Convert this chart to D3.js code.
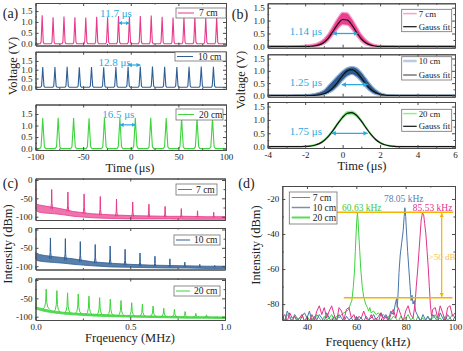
<!DOCTYPE html>
<html>
<head>
<meta charset="utf-8">
<script src="https://cdn.jsdelivr.net/npm/d3@7"></script>
<style>
body { margin: 0; background: #fff; }
svg { display: block; }
</style>
</head>
<body>
<script>
// ---------------- data ----------------
// (a) pulse trains: peak times (us) and peak voltages (V)
var aPeakT7  = [-93, -81.55, -70.1, -58.65, -47.2, -35.75, -24.3, -12.85, -1.4, 10.05, 21.5, 32.95, 44.4, 55.85, 67.3, 78.75, 90.2];
var aPeakV7  = [1.31, 1.22, 1.25, 1.22, 1.2, 1.24, 1.22, 1.27, 1.25, 1.27, 1.29, 1.24, 1.2, 1.22, 1.25, 1.2, 1.24];
var aPeakT10 = [-92.4, -79.6, -66.8, -54, -41.2, -28.4, -15.6, -2.8, 10, 22.8, 35.6, 48.4, 61.2, 74, 86.8];
var aPeakV10 = [1.16, 1.15, 1.17, 1.14, 1.15, 1.14, 1.16, 1.17, 1.18, 1.19, 1.17, 1.15, 1.17, 1.18, 1.17];
var aPeakT20 = [-92.4, -76.2, -60, -43.8, -27.6, -11.4, 4.8, 21, 37.2, 53.4, 69.6, 85.8];
var aPeakV20 = [1.32, 1.33, 1.32, 1.31, 1.33, 1.32, 1.34, 1.33, 1.32, 1.33, 1.32, 1.31];
var pulseFwhm = [1.14, 1.25, 1.75];
// single pulse profile, time in units of FWHM, value relative to peak
var pulseShapeT = [-1.8, -1, -0.5, 0, 0.5, 1, 1.8];
var pulseShapeV = [0, 0.06, 0.5, 1, 0.5, 0.06, 0];
var aPeriodLabels = ["11.7 \u03bcs", "12.8 \u03bcs", "16.5 \u03bcs"];

// (b) single pulses: time grid (us), measured envelope (lo/hi) and Gauss fit
var bTime  = [-4, -3, -2.5, -2.25, -2, -1.75, -1.5, -1.25, -1, -0.75, -0.5, -0.25, 0, 0.25, 0.5, 0.75, 1, 1.25, 1.5, 1.75, 2, 2.25, 2.5, 2.75, 3, 3.5, 4, 5, 6];
var bLo7   = [0, 0, 0, 0, 0, 0, 0, 0.02, 0.08, 0.22, 0.45, 0.68, 0.84, 0.82, 0.64, 0.4, 0.18, 0.06, 0.01, 0, 0, 0, 0, 0, 0, 0, 0, 0, 0];
var bHi7   = [0.01, 0.01, 0.02, 0.03, 0.05, 0.07, 0.1, 0.17, 0.3, 0.52, 0.82, 1.12, 1.32, 1.3, 1.08, 0.78, 0.48, 0.27, 0.13, 0.07, 0.04, 0.03, 0.02, 0.02, 0.01, 0.01, 0.01, 0.01, 0.01];
var bFit7  = [0, 0, 0, 0, 0.001, 0.005, 0.018, 0.058, 0.154, 0.335, 0.597, 0.872, 1.043, 1.022, 0.821, 0.54, 0.292, 0.129, 0.047, 0.014, 0.003, 0.001, 0, 0, 0, 0, 0, 0, 0];
var bLo10  = [0, 0, 0, 0, 0, 0, 0, 0, 0.02, 0.09, 0.2, 0.38, 0.6, 0.78, 0.85, 0.75, 0.55, 0.32, 0.14, 0.04, 0.01, 0, 0, 0, 0, 0, 0, 0, 0];
var bHi10  = [0.01, 0.01, 0.02, 0.02, 0.03, 0.05, 0.08, 0.13, 0.22, 0.42, 0.62, 0.82, 1.0, 1.13, 1.17, 1.12, 0.95, 0.7, 0.45, 0.25, 0.12, 0.06, 0.03, 0.02, 0.01, 0.01, 0.01, 0.01, 0.01];
var bFit10 = [0, 0, 0, 0, 0, 0.002, 0.007, 0.024, 0.068, 0.161, 0.325, 0.555, 0.807, 0.997, 1.047, 0.934, 0.709, 0.457, 0.25, 0.117, 0.046, 0.016, 0.004, 0.001, 0, 0, 0, 0, 0];
var bLo20  = [0, 0, 0, 0, 0, 0.01, 0.03, 0.09, 0.2, 0.36, 0.58, 0.83, 1.05, 1.2, 1.22, 1.12, 0.92, 0.68, 0.44, 0.26, 0.13, 0.06, 0.02, 0, 0, 0, 0, 0, 0];
var bHi20  = [0.01, 0.01, 0.01, 0.01, 0.02, 0.04, 0.08, 0.14, 0.26, 0.43, 0.66, 0.92, 1.15, 1.31, 1.33, 1.22, 1.0, 0.74, 0.5, 0.3, 0.17, 0.09, 0.05, 0.03, 0.02, 0.01, 0.01, 0.01, 0.01];
var bFit20 = [0, 0, 0.001, 0.003, 0.008, 0.022, 0.053, 0.114, 0.224, 0.391, 0.615, 0.868, 1.098, 1.248, 1.273, 1.165, 0.957, 0.705, 0.466, 0.277, 0.148, 0.07, 0.03, 0.012, 0.004, 0, 0, 0, 0];
// FWHM arrows: [start us, end us, level V]
var bArrows = [[-0.53, 0.8, 0.5], [-0.04, 1.33, 0.44], [-0.58, 1.33, 0.5]];
var bWidthLabels = ["1.14 \u03bcs", "1.25 \u03bcs", "1.75 \u03bcs"];

// (c) RF spectra 0-1 MHz: noise floor envelope and harmonic peaks
var cFreq = [0, 0.005, 0.02, 0.05, 0.1, 0.15, 0.2, 0.3, 0.4, 0.5, 0.6, 0.7, 0.8, 0.9, 1.0];
var cLo7  = [-80, -84, -88, -90, -92, -95, -99, -103, -105, -106, -106, -106, -107, -107, -107];
var cHi7  = [-2, -66, -68, -71, -75, -80, -86, -92, -95, -97, -98, -99, -99, -100, -100];
var cLo10 = [-80, -84, -86, -88, -90, -92, -95, -99, -102, -103, -104, -105, -105, -106, -106];
var cHi10 = [-62, -64, -68, -71, -74, -77, -80, -88, -92, -95, -97, -98, -99, -100, -100];
var cLo20 = [-80, -80, -82, -86, -90, -93, -95, -98, -100, -101, -102, -103, -104, -104, -105];
var cHi20 = [-25, -74, -76, -80, -85, -88, -90, -93, -95, -97, -98, -99, -100, -100, -101];
var cPeakF7  = [0.0855, 0.171, 0.2565, 0.342, 0.4275, 0.513, 0.5985, 0.684, 0.7695, 0.855, 0.9405];
var cPeakV7  = [-26, -33, -38, -45, -52, -60, -66, -72, -78, -84, -88];
var cPeakB7  = [-80, -86, -92, -96, -99, -100, -101, -101, -102, -102, -102];
var cPeakF10 = [0.0788, 0.1576, 0.2364, 0.3152, 0.394, 0.4728, 0.5516, 0.6304, 0.7092, 0.788, 0.8668, 0.9456];
var cPeakV10 = [-23, -25, -33, -41, -45, -54, -64, -73, -80, -89, -95, -98];
var cPeakB10 = [-80, -84, -88, -92, -95, -98, -100, -101, -102, -102, -103, -103];
var cPeakF20 = [0.0564, 0.1128, 0.1692, 0.2256, 0.282, 0.3384, 0.3948, 0.4512, 0.5076, 0.564, 0.6204, 0.6768, 0.7332, 0.7896, 0.846, 0.9024, 0.9588];
var cPeakV20 = [-25, -29, -35, -38, -44, -48, -52, -56, -62, -66, -71, -77, -80, -86, -91, -95, -100];
var cPeakB20 = [-80, -88, -91, -93, -95, -96, -97, -98, -99, -100, -100, -101, -101, -102, -102, -103, -103];
// peak profiles: offset (MHz) and fraction of peak height above floor
var spikeT = [-0.005, -0.0015, 0, 0.0015, 0.005];
var spikeL = [0, 0.3, 1, 0.3, 0];
var skirtT = [-0.018, -0.008, -0.003, 0, 0.003, 0.008, 0.018];
var skirtL = [0, 0.12, 0.35, 1, 0.35, 0.12, 0];

// (d) fundamental RF peaks: [kHz, dBm]
var d7 = [[30,-88],[31,-86],[32,-90],[33,-85],[34,-88],[35,-87],[36,-90],[37,-88],[38,-86],[39,-90],[40,-88],[41,-90],[42,-86],[43,-89],[44,-84],[45,-81],[46,-86],[47,-82],[48,-88],[49,-84],[50,-81],[51,-86],[52,-90],[53,-82],[54,-84],[55,-89],[56,-83],[57,-82],[58,-88],[59,-86],[60,-90],[61,-87],[62,-88],[63,-84],[64,-88],[65,-90],[66,-86],[67,-89],[68,-88],[69,-90],[70,-85],[71,-89],[72,-87],[73,-90],[74,-86],[75,-83],[76,-88],[77,-82],[78,-86],[79,-90],[80,-84],[81,-81],[82,-86],[83,-88],[83.8,-80],[84.3,-70],[84.9,-60],[85.4,-50],[85.9,-40],[86.3,-32],[86.8,-28],[87.3,-29],[87.7,-34],[88.2,-40],[88.7,-50],[89.2,-60],[89.6,-70],[90,-80],[90.5,-87],[91,-83],[92,-82],[93,-88],[94,-81],[95,-85],[96,-90],[97,-82],[98,-81],[99,-87],[100,-85]];
var d10 = [[30,-86],[31,-90],[32,-84],[33,-87],[34,-90],[35,-86],[36,-88],[37,-90],[38,-87],[39,-85],[40,-88],[41,-84],[42,-90],[43,-87],[44,-89],[45,-86],[46,-88],[47,-90],[48,-85],[49,-88],[50,-90],[51,-87],[52,-89],[53,-86],[54,-88],[55,-90],[56,-87],[57,-89],[58,-88],[59,-90],[60,-87],[61,-89],[62,-88],[63,-90],[64,-87],[65,-89],[66,-88],[67,-86],[68,-89],[69,-87],[70,-85],[71,-88],[72,-86],[73,-89],[74,-84],[75,-86],[75.8,-80],[76.3,-77],[76.6,-82],[77,-72],[77.3,-62],[77.8,-52],[78.4,-45],[79,-38],[79.4,-30],[79.7,-25],[80,-30],[80.4,-40],[80.8,-50],[81.3,-60],[81.8,-70],[82.2,-78],[82.6,-75],[83,-80],[83.5,-78],[84,-84],[85,-87],[86,-90],[87,-86],[88,-89],[89,-87],[90,-90],[91,-86],[92,-88],[93,-90],[94,-85],[95,-88],[96,-90],[97,-86],[98,-88],[99,-90],[100,-87]];
var d20 = [[30,-87],[31,-90],[32,-86],[33,-88],[34,-90],[35,-87],[36,-89],[37,-88],[38,-86],[39,-90],[40,-87],[41,-89],[42,-88],[43,-90],[44,-86],[45,-88],[46,-90],[47,-87],[48,-89],[49,-88],[50,-86],[51,-89],[52,-87],[53,-88],[54,-86],[55,-85],[56,-84],[57,-83],[57.6,-80],[58.2,-78],[58.8,-70],[59.3,-60],[59.6,-50],[59.9,-40],[60.2,-32],[60.45,-28],[60.7,-32],[61,-40],[61.4,-50],[61.8,-60],[62.4,-70],[63,-76],[63.8,-80],[64.5,-82],[65,-84],[65.5,-82],[66,-85],[67,-84],[68,-86],[69,-85],[70,-87],[71,-86],[72,-88],[73,-87],[74,-89],[75,-87],[76,-88],[77,-90],[78,-87],[79,-89],[80,-88],[81,-86],[82,-89],[83,-88],[84,-90],[85,-87],[86,-89],[87,-88],[88,-90],[89,-87],[90,-89],[91,-88],[92,-86],[93,-89],[94,-88],[95,-90],[96,-87],[97,-89],[98,-88],[99,-86],[100,-88]];
var dPeakLevel = -27.6, dFloorLevel = -76.4;
var dPeakLine = [49.5, 99.3], dFloorLine = [54.9, 99], dArrowKHz = 94.6;
var dPeakLabels = ["60.63 kHz", "78.05 kHz", "85.53 kHz"];
var dPeakLabelPos = [[54.2, -26.6], [71.2, -22.0], [82.9, -26.6]];

var seriesNames = ["7 cm", "10 cm", "20 cm"];

// ---------------- drawing ----------------
var serif = '"Liberation Serif", "Times New Roman", serif';
var frameColor = "#4a4a4a";
var pink = "#e8398b", blue = "#2f5f96", green = "#3dd43d";
var cyan = "#29aae1", gold = "#f5b301";

var svg = d3.select("body").append("svg")
    .attr("width", 463).attr("height", 351)
    .style("font-family", serif);
var defs = svg.append("defs");

function marker(id, color) {
    defs.append("marker").attr("id", id)
        .attr("viewBox", "0 0 10 10").attr("refX", 9).attr("refY", 5)
        .attr("markerWidth", 3.5).attr("markerHeight", 3.5)
        .attr("orient", "auto-start-reverse")
        .append("path").attr("d", "M0,0L10,5L0,10z").attr("fill", color);
}
marker("arrCyan", cyan);
marker("arrGold", gold);

var clipCount = 0;
function clipped(g, x, y) {
    var id = "clip" + (clipCount++);
    defs.append("clipPath").attr("id", id).append("rect")
        .attr("x", x.range()[0]).attr("y", y.range()[1])
        .attr("width", x.range()[1] - x.range()[0])
        .attr("height", y.range()[0] - y.range()[1]);
    return g.append("g").attr("clip-path", "url(#" + id + ")");
}

function noLabel() { return ""; }

// frame with inward ticks on all four sides
function axes(g, x, y, o) {
    var xr = x.range(), yr = y.range();
    function put(axis, tx, ty) {
        var a = g.append("g").attr("transform", "translate(" + tx + "," + ty + ")").call(axis);
        a.attr("font-family", serif).attr("font-size", 9);
        a.select(".domain").attr("stroke", frameColor);
        a.selectAll(".tick line").attr("stroke", frameColor);
        a.selectAll(".tick text").attr("fill", "#222");
    }
    put(d3.axisBottom(x).tickValues(o.xMinor).tickSize(-1.5).tickSizeOuter(0).tickFormat(noLabel), 0, yr[0]);
    put(d3.axisBottom(x).tickValues(o.xMajor).tickSize(-3).tickSizeOuter(0).tickPadding(3.5).tickFormat(o.xFmt || noLabel), 0, yr[0]);
    put(d3.axisTop(x).tickValues(o.xMinor).tickSize(-1.5).tickSizeOuter(0).tickFormat(noLabel), 0, yr[1]);
    put(d3.axisTop(x).tickValues(o.xMajor).tickSize(-3).tickSizeOuter(0).tickFormat(noLabel), 0, yr[1]);
    put(d3.axisLeft(y).tickValues(o.yMinor).tickSize(-1.5).tickSizeOuter(0).tickFormat(noLabel), xr[0], 0);
    put(d3.axisLeft(y).tickValues(o.yMajor).tickSize(-3).tickSizeOuter(0).tickPadding(3).tickFormat(o.yFmt), xr[0], 0);
    put(d3.axisRight(y).tickValues(o.yMinor).tickSize(-1.5).tickSizeOuter(0).tickFormat(noLabel), xr[1], 0);
    put(d3.axisRight(y).tickValues(o.yMajor).tickSize(-3).tickSizeOuter(0).tickFormat(noLabel), xr[1], 0);
}

// legend box: box = [x, y, w, h]; rows = [{label, color, width, y}]
function legend(g, box, lineX, textX, rows, size) {
    g.append("rect").attr("x", box[0]).attr("y", box[1])
        .attr("width", box[2]).attr("height", box[3])
        .attr("fill", "#fff").attr("stroke", "#707070").attr("stroke-width", 0.8);
    rows.forEach(function(r) {
        g.append("line").attr("x1", lineX[0]).attr("x2", lineX[1])
            .attr("y1", r.y).attr("y2", r.y)
            .attr("stroke", r.color).attr("stroke-width", r.width);
        g.append("text").attr("x", textX).attr("y", r.y).attr("dy", "0.35em")
            .attr("font-size", size || 10).attr("fill", "#222").text(r.label);
    });
}

function title(txt, x, y, size, rotate) {
    var t = svg.append("text").attr("font-size", size).attr("fill", "#222")
        .attr("text-anchor", "middle").text(txt);
    if (rotate) t.attr("transform", "translate(" + x + "," + y + ") rotate(-90)").attr("dy", "0.35em");
    else t.attr("x", x).attr("y", y);
    return t;
}

function fix1(d) { return d.toFixed(1); }
function plain(d) { return String(d); }

// ---- panel (a) ----
var aSeries = [
    { t: aPeakT7, v: aPeakV7, color: pink, legend: [176, 8, 50, 10], arrow: [7, 0.95], label: [-15.5, 1.25] },
    { t: aPeakT10, v: aPeakV10, color: blue, legend: [175, 52, 51, 9], arrow: [7, 1.27], label: [-17, 1.19] },
    { t: aPeakT20, v: aPeakV20, color: green, legend: [176, 109, 47, 11], arrow: [5, 1.03], label: [-13.1, 1.33] }
];
var aBoxes = [[3, 45.5], [51.7, 89], [104.5, 150]];
var aDomains = [[-0.08, 1.87], [-0.1, 2.03], [-0.06, 1.91]];

aSeries.forEach(function(s, i) {
    var x = d3.scaleLinear().domain([-100, 100]).range([35.5, 226]);
    var y = d3.scaleLinear().domain(aDomains[i]).range([aBoxes[i][1], aBoxes[i][0]]);
    var g = svg.append("g");
    var pts = [[-100, 0]];
    s.t.forEach(function(t, k) {
        pulseShapeT.forEach(function(dt, j) {
            pts.push([t + dt * pulseFwhm[i], s.v[k] * pulseShapeV[j]]);
        });
    });
    pts.push([100, 0]);
    clipped(g, x, y).append("path").datum(pts)
        .attr("d", d3.line().x(function(d) { return x(d[0]); }).y(function(d) { return y(d[1]); }))
        .attr("fill", "none").attr("stroke", s.color).attr("stroke-width", 1.1);
    axes(g, x, y, {
        xMajor: [-100, -50, 0, 50, 100], xMinor: [-75, -25, 25, 75],
        yMajor: [0, 0.5, 1, 1.5], yMinor: [0.25, 0.75, 1.25],
        xFmt: i === 2 ? plain : null, yFmt: fix1
    });
    var lb = s.legend;
    legend(g, lb, [lb[0] + 2, lb[0] + 18], lb[0] + 23,
        [{ label: seriesNames[i], color: s.color, width: 1, y: lb[1] + lb[3] / 2 }], 9.5);
    // period arrow between two neighbouring pulses
    var k = s.arrow[0];
    g.append("line").attr("x1", x(s.t[k])).attr("x2", x(s.t[k + 1]))
        .attr("y1", y(s.arrow[1])).attr("y2", y(s.arrow[1]))
        .attr("stroke", cyan).attr("stroke-width", 1.2)
        .attr("marker-start", "url(#arrCyan)").attr("marker-end", "url(#arrCyan)");
    g.append("text").attr("x", x(s.label[0])).attr("y", y(s.label[1]))
        .attr("text-anchor", "middle").attr("font-size", 11).attr("fill", cyan)
        .text(aPeriodLabels[i]);
});
title("Voltage (V)", 13, 66, 12.5, true);
title("Time (\u03bcs)", 130, 171.5, 12.5);
title("(a)", 10.5, 18, 14);

// ---- panel (b) ----
var bSeries = [
    { lo: bLo7, hi: bHi7, fit: bFit7, fill: "#ea3f8f", edge: "#f7a3c9", fitColor: "#111", legLine: "#f7a3c9", legW: 1.5, fitLeg: "#111", legend: [401.7, 9.3, 50, 22.4] },
    { lo: bLo10, hi: bHi10, fit: bFit10, fill: "#2c5a8e", edge: "#93b2d5", fitColor: "#111", legLine: "#b9cbe0", legW: 2.5, fitLeg: "#555", legend: [401.7, 56.7, 50, 23.3] },
    { lo: bLo20, hi: bHi20, fit: bFit20, fill: "#3ad63a", edge: "#8ef08e", fitColor: "#111", legLine: "#8df08d", legW: 1.5, fitLeg: "#111", legend: [401.7, 109.3, 50, 22] }
];
var bBoxes = [[3.3, 47.7], [54.3, 96.7], [102, 148]];

bSeries.forEach(function(s, i) {
    var x = d3.scaleLinear().domain([-4, 6]).range([267.7, 455]);
    var y = d3.scaleLinear().domain([-0.05, 1.67]).range([bBoxes[i][1], bBoxes[i][0]]);
    var g = svg.append("g");
    var c = clipped(g, x, y);
    var area = d3.area().curve(d3.curveMonotoneX)
        .x(function(d, k) { return x(bTime[k]); })
        .y0(function(d, k) { return y(s.lo[k]); })
        .y1(function(d, k) { return y(s.hi[k]); });
    c.append("path").datum(bTime).attr("d", area)
        .attr("fill", s.fill).attr("stroke", s.edge).attr("stroke-width", 1.2);
    c.append("path").datum(s.fit)
        .attr("d", d3.line().curve(d3.curveMonotoneX)
            .x(function(d, k) { return x(bTime[k]); }).y(function(d) { return y(d); }))
        .attr("fill", "none").attr("stroke", s.fitColor).attr("stroke-width", 1.2);
    axes(g, x, y, {
        xMajor: [-4, -2, 0, 2, 4, 6], xMinor: [-3, -1, 1, 3, 5],
        yMajor: [0, 0.5, 1, 1.5], yMinor: [0.25, 0.75, 1.25],
        xFmt: i === 2 ? plain : null, yFmt: fix1
    });
    var lb = s.legend;
    legend(g, lb, [lb[0] + 1.5, lb[0] + 15], lb[0] + 17, [
        { label: seriesNames[i], color: s.legLine, width: s.legW, y: lb[1] + 4.3 },
        { label: "Gauss fit", color: s.fitLeg, width: 1.2, y: lb[1] + lb[3] - 5 }
    ], 8.8);
    var a = bArrows[i];
    g.append("line").attr("x1", x(a[0])).attr("x2", x(a[1]))
        .attr("y1", y(a[2])).attr("y2", y(a[2]))
        .attr("stroke", cyan).attr("stroke-width", 1.3)
        .attr("marker-start", "url(#arrCyan)").attr("marker-end", "url(#arrCyan)");
    g.append("text").attr("x", x(-1.1)).attr("y", y(a[2]) + 1.5)
        .attr("text-anchor", "end").attr("font-size", 11).attr("fill", cyan)
        .text(bWidthLabels[i]);
});
title("Voltage (V)", 241, 80, 12.5, true);
title("Time (\u03bcs)", 362, 169.5, 12.5);
title("(b)", 240, 19, 14);

// ---- panel (c) ----
var cSeries = [
    { lo: cLo7, hi: cHi7, pf: cPeakF7, pv: cPeakV7, pb: cPeakB7, color: pink, op: 0.7, shapeT: spikeT, shapeL: spikeL, legend: [176, 184, 41, 11] },
    { lo: cLo10, hi: cHi10, pf: cPeakF10, pv: cPeakV10, pb: cPeakB10, color: blue, op: 0.8, shapeT: spikeT, shapeL: spikeL, legend: [174, 235, 46, 10] },
    { lo: cLo20, hi: cHi20, pf: cPeakF20, pv: cPeakV20, pb: cPeakB20, color: green, op: 0.85, shapeT: skirtT, shapeL: skirtL, legend: [174, 286, 46, 10] }
];
var cBoxes = [[178.5, 220], [228, 269.5], [278.5, 320]];

cSeries.forEach(function(s, i) {
    var x = d3.scaleLinear().domain([0, 1]).range([35.5, 225]);
    var y = d3.scaleLinear().domain([-109, 4]).range([cBoxes[i][1], cBoxes[i][0]]);
    var g = svg.append("g");
    var c = clipped(g, x, y);
    c.append("path").datum(cFreq)
        .attr("d", d3.area()
            .x(function(d) { return x(d); })
            .y0(function(d, k) { return y(s.lo[k]); })
            .y1(function(d, k) { return y(s.hi[k]); }))
        .attr("fill", s.color).attr("fill-opacity", s.op)
        .attr("stroke", s.color).attr("stroke-width", 0.8);
    var line = d3.line().x(function(d) { return x(d[0]); }).y(function(d) { return y(d[1]); });
    s.pf.forEach(function(f, k) {
        var pts = s.shapeT.map(function(dt, j) {
            return [f + dt, s.pb[k] + s.shapeL[j] * (s.pv[k] - s.pb[k])];
        });
        c.append("path").datum(pts).attr("d", line)
            .attr("fill", "none").attr("stroke", s.color).attr("stroke-width", 1);
    });
    axes(g, x, y, {
        xMajor: [0, 0.5, 1], xMinor: [0.25, 0.75],
        yMajor: [0, -50, -100], yMinor: [-25, -75],
        xFmt: i === 2 ? fix1 : null, yFmt: plain
    });
    var lb = s.legend;
    legend(g, lb, [lb[0] + 2, lb[0] + 16], lb[0] + 20,
        [{ label: seriesNames[i], color: s.color, width: 1, y: lb[1] + lb[3] / 2 }], 9.5);
});
title("Intensity (dBm)", 8, 244, 12.5, true);
title("Frqeuency (MHz)", 130, 341.5, 12.5);
title("(c)", 10.5, 188, 14);

// ---- panel (d) ----
(function() {
    var x = d3.scaleLinear().domain([30, 100]).range([282.3, 455]);
    var y = d3.scaleLinear().domain([-89.1, -12.6]).range([320, 186]);
    var g = svg.append("g");
    var c = clipped(g, x, y);
    var line = d3.line().x(function(d) { return x(d[0]); }).y(function(d) { return y(d[1]); });
    [[d20, "#3ed33e"], [d10, "#4a76a8"], [d7, "#e0338a"]].forEach(function(p) {
        c.append("path").datum(p[0]).attr("d", line)
            .attr("fill", "none").attr("stroke", p[1]).attr("stroke-width", 1);
    });
    // peak level, floor level and >50 dB arrow
    g.append("line").attr("x1", x(dPeakLine[0])).attr("x2", x(dPeakLine[1]))
        .attr("y1", y(dPeakLevel)).attr("y2", y(dPeakLevel))
        .attr("stroke", gold).attr("stroke-width", 1.5);
    g.append("line").attr("x1", x(dFloorLine[0])).attr("x2", x(dFloorLine[1]))
        .attr("y1", y(dFloorLevel)).attr("y2", y(dFloorLevel))
        .attr("stroke", gold).attr("stroke-width", 1.5);
    g.append("line").attr("x1", x(dArrowKHz)).attr("x2", x(dArrowKHz))
        .attr("y1", y(dPeakLevel) + 1).attr("y2", y(dFloorLevel) - 1)
        .attr("stroke", gold).attr("stroke-width", 1.2)
        .attr("marker-start", "url(#arrGold)").attr("marker-end", "url(#arrGold)");
    g.append("text").attr("x", x(89.3)).attr("y", y(-54.8))
        .attr("font-size", 9).attr("fill", "#f5c04a").text(">50 dB");
    axes(g, x, y, {
        xMajor: [40, 60, 80, 100], xMinor: [30, 50, 70, 90],
        yMajor: [-20, -40, -60, -80], yMinor: [-30, -50, -70],
        xFmt: plain, yFmt: plain
    });
    var labelColors = ["#3cc83c", "#5b80aa", "#e0338a"];
    dPeakLabels.forEach(function(t, k) {
        g.append("text").attr("x", x(dPeakLabelPos[k][0])).attr("y", y(dPeakLabelPos[k][1]))
            .attr("font-size", 9.5).attr("fill", labelColors[k]).text(t);
    });
    legend(g, [289.3, 192, 47.7, 32], [291.7, 310], 312.7, [
        { label: "7 cm", color: "#e0509a", width: 1, y: 197.5 },
        { label: "10 cm", color: "#7890ab", width: 1.5, y: 207.5 },
        { label: "20 cm", color: "#55dd55", width: 2, y: 217.5 }
    ], 9.5);
})();
title("Intensity (dBm)", 255.5, 245, 12.5, true);
title("Frequency (kHz)", 368, 345.5, 12.5);
title("(d)", 246.5, 188, 14);
</script>
</body>
</html>
